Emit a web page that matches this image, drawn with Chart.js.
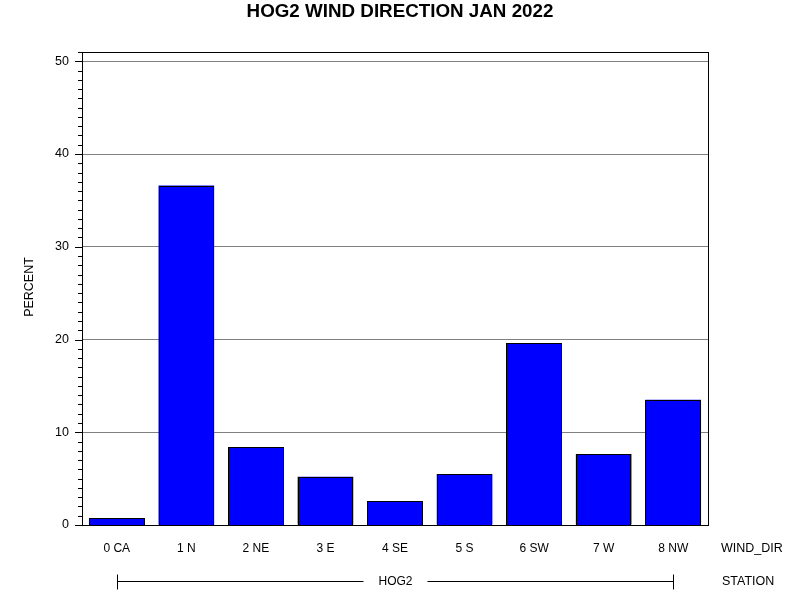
<!DOCTYPE html>
<html>
<head>
<meta charset="utf-8">
<script src="https://cdn.jsdelivr.net/npm/chart.js@4"></script>
<style>
html,body{margin:0;padding:0;background:#fff;}
#wrap{width:800px;height:600px;}
</style>
</head>
<body>
<div id="wrap"><canvas id="c" width="800" height="600"></canvas></div>
<script>
const categories = ["0 CA", "1 N", "2 NE", "3 E", "4 SE", "5 S", "6 SW", "7 W", "8 NW"];
const percentValues = [0.75, 36.6, 8.4, 5.2, 2.6, 5.5, 19.6, 7.65, 13.5];
const yTickValues = [0, 10, 20, 30, 40, 50];
const stationName = "HOG2";
const titleText = "HOG2 WIND DIRECTION JAN 2022";

const FONT = "'Liberation Sans', Arial, sans-serif";

const decorPlugin = {
  id: 'decor',
  afterDatasetsDraw(chart) {
    // crisp black outlines around the library's bar elements
    const ctx = chart.ctx;
    const meta = chart.getDatasetMeta(0);
    ctx.save();
    ctx.strokeStyle = '#000';
    ctx.lineWidth = 1;
    meta.data.forEach(bar => {
      const p = bar.getProps(['x', 'y', 'base', 'width'], true);
      const l = Math.round(p.x - p.width / 2);
      const r = Math.round(p.x + p.width / 2);
      const t = Math.round(p.y);
      const b = Math.round(p.base);
      ctx.fillStyle = '#0000ff';
      ctx.fillRect(l, t, r - l, b - t);
      ctx.strokeRect(l + 0.5, t + 0.5, r - l - 1, b - t);
    });
    ctx.restore();
  },
  afterDraw(chart) {
    const ctx = chart.ctx;
    const a = chart.chartArea;
    const y = chart.scales.y;
    const x = chart.scales.x;
    ctx.save();
    // title
    ctx.fillStyle = '#000';
    ctx.font = 'bold 18.8px ' + FONT;
    ctx.textAlign = 'center';
    ctx.textBaseline = 'middle';
    ctx.fillText(titleText, 400, 12);
    // frame
    ctx.strokeStyle = '#000';
    ctx.lineWidth = 1;
    ctx.strokeRect(Math.round(a.left) + 0.5, Math.round(a.top) + 0.5,
                   Math.round(a.right - a.left), Math.round(a.bottom - a.top));
    // y ticks: major and minor
    ctx.beginPath();
    for (let v = 0; v <= y.max; v += 1) {
      const py = Math.round(y.getPixelForValue(v)) + 0.5;
      const len = (v % 10 === 0) ? 7 : 4;
      ctx.moveTo(a.left - len, py);
      ctx.lineTo(a.left, py);
    }
    ctx.stroke();
    // side labels
    ctx.font = '12.5px ' + FONT;
    ctx.textBaseline = 'middle';
    ctx.textAlign = 'left';
    ctx.fillText('WIND_DIR', 721, 549);
    ctx.fillText('STATION', 722, 582);
    // station line
    const x0 = Math.round(x.getPixelForValue(0)) + 0.5;
    const x1 = Math.round(x.getPixelForValue(categories.length - 1)) + 0.5;
    const cy = 581.5;
    const mid = (x0 + x1) / 2;
    ctx.font = '12px ' + FONT;
    ctx.textAlign = 'center';
    ctx.fillText(stationName, mid, 582);
    const tw = ctx.measureText(stationName).width;
    const gap = tw / 2 + 15;
    ctx.beginPath();
    ctx.moveTo(x0, cy); ctx.lineTo(mid - gap, cy);
    ctx.moveTo(mid + gap, cy); ctx.lineTo(x1, cy);
    ctx.moveTo(x0, cy - 7); ctx.lineTo(x0, cy + 8);
    ctx.moveTo(x1, cy - 7); ctx.lineTo(x1, cy + 8);
    ctx.stroke();
    // y title
    ctx.font = '12.5px ' + FONT;
    ctx.translate(30, 287);
    ctx.rotate(-Math.PI / 2);
    ctx.textAlign = 'center';
    ctx.textBaseline = 'middle';
    ctx.fillText('PERCENT', 0, 0);
    ctx.restore();
  }
};

new Chart(document.getElementById('c'), {
  type: 'bar',
  data: {
    labels: categories,
    datasets: [{
      data: percentValues,
      backgroundColor: '#0000ff',
      borderColor: '#000000',
      borderWidth: 0,
      categoryPercentage: 0.8,
      barPercentage: 1.0
    }]
  },
  options: {
    responsive: false,
    animation: false,
    devicePixelRatio: 1,
    layout: { padding: { left: 0, right: 92, top: 52, bottom: 0 } },
    plugins: {
      legend: { display: false },
      tooltip: { enabled: false },
      title: { display: false }
    },
    scales: {
      x: {
        afterFit(s) { s.height = 75; },
        grid: { display: false, drawTicks: false },
        border: { display: false },
        ticks: {
          color: '#000',
          padding: 16,
          maxRotation: 0,
          autoSkip: false,
          font: { family: FONT, size: 12 }
        }
      },
      y: {
        min: 0,
        max: 51,
        afterFit(s) { s.width = 82; },
        afterBuildTicks(s) { s.ticks = yTickValues.map(v => ({ value: v })); },
        grid: {
          drawTicks: false,
          color: (c) => (c.tick && c.tick.value === 0) ? 'rgba(0,0,0,0)' : '#808080',
          lineWidth: 1
        },
        border: { display: false },
        ticks: {
          color: '#000',
          padding: 13,
          font: { family: FONT, size: 12.5 }
        }
      }
    }
  },
  plugins: [decorPlugin]
});
</script>
</body>
</html>
